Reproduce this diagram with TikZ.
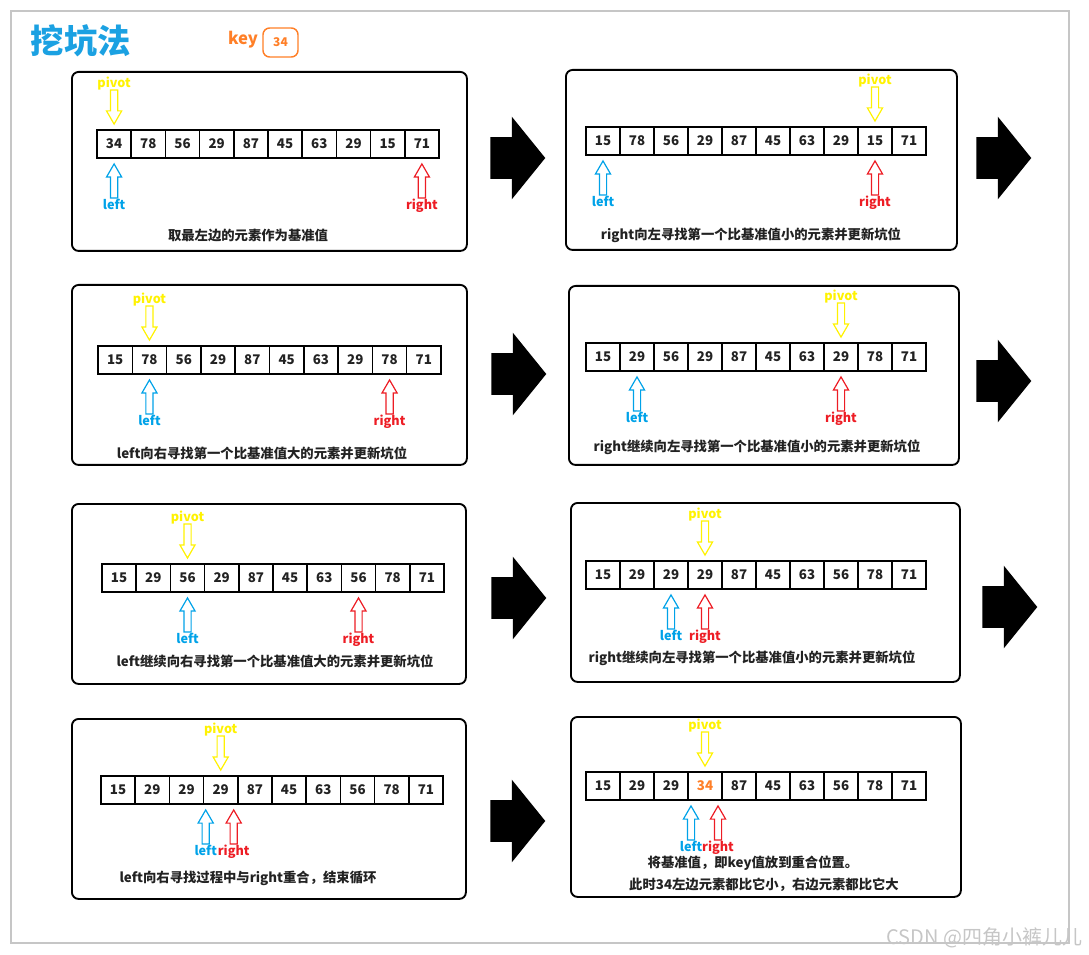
\documentclass[tikz,border=0pt]{standalone}
\usepackage{fontspec}
\setmainfont{Noto Sans CJK SC}
\usepackage{tikz}
\usetikzlibrary{shapes.arrows,positioning}
\definecolor{pivotyel}{HTML}{FFF200}
\definecolor{leftblu}{HTML}{00A2E8}
\definecolor{rightred}{HTML}{ED1C24}
\definecolor{keyor}{HTML}{FF7F27}
\definecolor{titleblu}{HTML}{1BA1E2}
\definecolor{txt}{HTML}{222222}
\def\px{0.75pt}
\tikzset{cell/.style={draw,line width=1.1pt,minimum height=28*\px,inner sep=0pt,font=\bfseries\fontsize{10}{12}\selectfont,text=txt},
  panel/.style={draw,line width=1.4pt,rounded corners=5pt,anchor=north west},
  ptr/.style={single arrow,draw,line width=0.9pt,inner sep=3*\px,minimum height=34*\px,single arrow head extend=4*\px,single arrow tip angle=60,anchor=tip},
  pivptr/.style={ptr,draw=pivotyel,shape border rotate=270},
  lptr/.style={ptr,draw=leftblu,shape border rotate=90},
  rptr/.style={ptr,draw=rightred,shape border rotate=90},
  lbl/.style={inner sep=1pt,font=\bfseries\fontsize{9.5}{11}\selectfont},
  note/.style={font=\bfseries\fontsize{10}{12}\selectfont,text=txt},
  bigarr/.style={single arrow,fill=black,inner xsep=0pt,inner ysep=20.5*\px,minimum height=55*\px,single arrow head extend=20.5*\px,single arrow tip angle=102,anchor=tail}}
% one row of cells: name, left x, top y, cell width, values
\newcommand{\cells}[5]{\foreach \val [count=\idx] in {#5} {\node[cell,minimum width=#4*\px] (#1-\idx) at ({#2+(\idx-0.5)*#4},{#3+14}) {\val};}}
% pointers: name, pivot cell, left cell, right cell, left shift, right shift
\newcommand{\pointers}[6]{%
  \node[pivptr] (#1-p) at ([yshift=3pt]#1-#2.north) {};
  \node[lbl,text=pivotyel,above=-2pt of #1-p.tail] (#1-pt) {pivot};
  \node[lptr] (#1-l) at ([xshift=#5*\px,yshift=-3pt]#1-#3.south) {};
  \node[lbl,text=leftblu,below=-1pt of #1-l.tail] (#1-lt) {left};
  \node[rptr] (#1-r) at ([xshift=#6*\px,yshift=-3pt]#1-#4.south) {};
  \node[lbl,text=rightred,below=-1pt of #1-r.tail] (#1-rt) {right};}

\begin{document}
\begin{tikzpicture}[x=0.75pt,y=-0.75pt]
    \useasboundingbox (0,0) rectangle (1089,955);
    \draw[gray!45,line width=1.1pt] (11,11) rectangle (1069,943);
    \node[font=\bfseries\fontsize{25}{30}\selectfont,text=titleblu] (title) at (81,41) {挖坑法};
    \node[font=\bfseries\fontsize{12.5}{15}\selectfont,text=keyor] (key) at (243,40) {key};
    \node[draw=keyor,line width=1.1pt,rounded corners=5pt,minimum width=35*\px,minimum height=29*\px,font=\bfseries\fontsize{9}{11}\selectfont,text=keyor] (keybox) at (280.5,42.5) {34};

    % step 1
    \node[panel,minimum width=395*\px,minimum height=179*\px] (box1) at (71,71) {};
    \cells{a}{97}{130}{34.2}{34,78,56,29,87,45,63,29,15,71}
    \pointers{a}{1}{1}{10}{0}{0}
    \node[note] (a-note) at (248,236) {取最左边的元素作为基准值};
    \node[bigarr] (go1) at (490,158) {};

    % step 2
    \node[panel,minimum width=391*\px,minimum height=180*\px] (box2) at (565,69) {};
    \cells{b}{586}{127}{34}{15,78,56,29,87,45,63,29,15,71}
    \pointers{b}{9}{1}{9}{0}{0}
    \node[note] (b-note) at (751,235) {right向左寻找第一个比基准值小的元素并更新坑位};
    \node[bigarr] (go2) at (976,158) {};

    % step 3
    \node[panel,minimum width=395*\px,minimum height=180*\px] (box3) at (71,284) {};
    \cells{c}{98}{346}{34.3}{15,78,56,29,87,45,63,29,78,71}
    \pointers{c}{2}{2}{9}{0}{0}
    \node[note] (c-note) at (262,453) {left向右寻找第一个比基准值大的元素并更新坑位};
    \node[bigarr] (go3) at (491,374) {};

    % step 4
    \node[panel,minimum width=390*\px,minimum height=179*\px] (box4) at (568,285) {};
    \cells{d}{586}{343}{34}{15,29,56,29,87,45,63,29,78,71}
    \pointers{d}{8}{2}{8}{0}{0}
    \node[note] (d-note) at (757,447) {right继续向左寻找第一个比基准值小的元素并更新坑位};
    \node[bigarr] (go4) at (976,381) {};

    % step 5
    \node[panel,minimum width=394*\px,minimum height=180*\px] (box5) at (71,503) {};
    \cells{e}{102}{564}{34.2}{15,29,56,29,87,45,63,56,78,71}
    \pointers{e}{3}{3}{8}{0}{0}
    \node[note] (e-note) at (275,661) {left继续向右寻找第一个比基准值大的元素并更新坑位};
    \node[bigarr] (go5) at (491,598) {};

    % step 6
    \node[panel,minimum width=389*\px,minimum height=179*\px] (box6) at (570,502) {};
    \cells{f}{586}{561}{34}{15,29,29,29,87,45,63,56,78,71}
    \pointers{f}{4}{3}{4}{0}{0}
    \node[note] (f-note) at (752,658) {right继续向左寻找第一个比基准值小的元素并更新坑位};
    \node[bigarr] (go6) at (982,607) {};

    % step 7
    \node[panel,minimum width=394*\px,minimum height=180*\px] (box7) at (71,718) {};
    \cells{g}{101}{776}{34.2}{15,29,29,29,87,45,63,56,78,71}
    \pointers{g}{4}{4}{4}{-15}{13}
    \node[note] (g-note) at (248,878) {left向右寻找过程中与right重合，结束循环};
    \node[bigarr] (go7) at (490,821) {};

    % step 8
    \node[panel,minimum width=390*\px,minimum height=180*\px] (box8) at (570,716) {};
    \cells{h}{586}{772}{34}{15,29,29,{\textcolor{keyor}{34}},87,45,63,56,78,71}
    \pointers{h}{4}{4}{4}{-14}{13}
    \node[note] (h-note1) at (753,863) {将基准值，即key值放到重合位置。};
    \node[note] (h-note2) at (764,885) {此时34左边元素都比它小，右边元素都比它大};

    \node[anchor=east,text=gray!45,font=\fontsize{15}{18}\selectfont] (mark) at (1087,938) {CSDN @四角小裤儿儿};
\end{tikzpicture}
\end{document}
